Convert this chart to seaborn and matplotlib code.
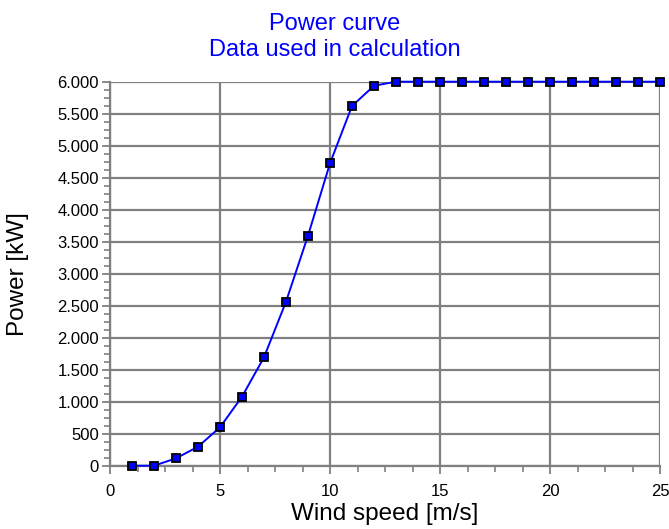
import matplotlib
matplotlib.use("Agg")
import matplotlib.pyplot as plt
import matplotlib.ticker as mticker
import seaborn as sns
import pandas as pd

# Power curve of the turbine (wind speed in m/s, power in kW)
wind_speed = [1, 2, 3, 4, 5, 6, 7, 8, 9, 10, 11, 12, 13, 14, 15, 16, 17,
              18, 19, 20, 21, 22, 23, 24, 25]
power_kw = [0, 0, 115, 297, 600, 1078, 1694, 2562, 3594, 4725, 5620, 5937,
            6000, 6000, 6000, 6000, 6000, 6000, 6000, 6000, 6000, 6000,
            6000, 6000, 6000]

title_lines = ["Power curve", "Data used in calculation"]
x_label = "Wind speed [m/s]"
y_label = "Power [kW]"

df = pd.DataFrame({"wind": wind_speed, "power": power_kw})

sns.set_theme(style="white")
plt.rcParams["font.family"] = ["Liberation Sans", "DejaVu Sans"]

W, H = 669, 529
fig = plt.figure(figsize=(W / 100, H / 100), dpi=100)
ax = fig.add_axes([110 / W, 1 - 465.7 / H, 550 / W, 384 / H])

grid_c = "#808080"
sns.lineplot(data=df, x="wind", y="power", ax=ax, color="#0000ff",
             linewidth=1.4, marker="s", markersize=5.6,
             markerfacecolor="#0000ff", markeredgecolor="black",
             markeredgewidth=1.3, zorder=5, clip_on=False)

ax.set_xlim(0, 25)
ax.set_ylim(0, 6000)
ax.xaxis.set_major_locator(mticker.MultipleLocator(5))
ax.xaxis.set_minor_locator(mticker.MultipleLocator(1.25))
ax.yaxis.set_major_locator(mticker.MultipleLocator(500))
ax.yaxis.set_minor_locator(mticker.MultipleLocator(125))
ax.yaxis.set_major_formatter(
    mticker.FuncFormatter(lambda v, p: f"{int(v):,}".replace(",", ".")))

ax.grid(True, which="major", color=grid_c, linewidth=1.6)
ax.set_axisbelow(True)
for s in ax.spines.values():
    s.set_visible(False)
for side in ("left", "bottom"):
    ax.spines[side].set_visible(True)
    ax.spines[side].set_color(grid_c)
    ax.spines[side].set_linewidth(1.6)

ax.tick_params(which="major", direction="out", length=6, width=1.3,
               color=grid_c, labelsize=12, labelcolor="black",
               left=True, bottom=True, pad=2)
ax.tick_params(axis="x", which="major", pad=7)
ax.tick_params(which="minor", direction="out", length=4, width=1.2,
               color=grid_c, left=True, bottom=True)

ax.set_xlabel(x_label, fontsize=17.5, color="black")
ax.set_ylabel(y_label, fontsize=17.5, color="black")
ax.xaxis.set_label_coords(0.5, (465.7 - 503) / 384)
ax.yaxis.set_label_coords((29 - 110) / 550, 0.5)

fig.text(0.5, 1 - 30 / H, title_lines[0], ha="center", va="baseline",
         fontsize=17, color="#0000ff")
fig.text(0.5, 1 - 56 / H, title_lines[1], ha="center", va="baseline",
         fontsize=17, color="#0000ff")

fig.savefig("out.png", dpi=100)
